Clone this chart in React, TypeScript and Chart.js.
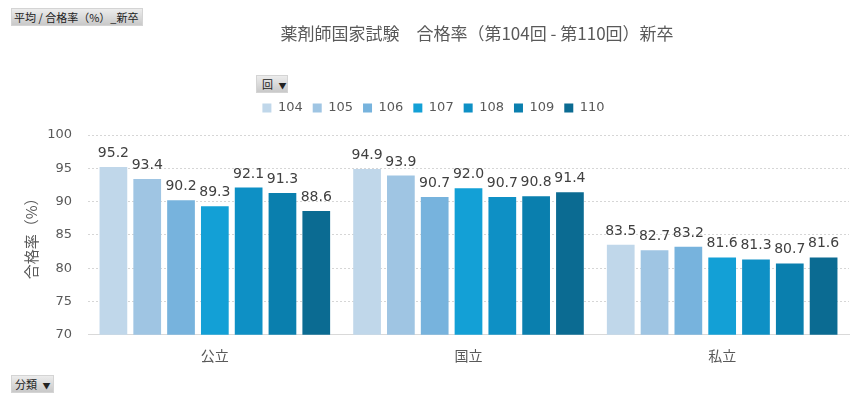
import { useEffect, useRef } from "react"
import { Chart, registerables } from "chart.js"

Chart.register(...registerables)

// 分類 (x軸)
const categories = ["公立", "国立", "私立"]

// 回 (凡例)
const rounds = ["104", "105", "106", "107", "108", "109", "110"]

// 合格率 (%) 新卒  [公立, 国立, 私立]
const rate104 = [95.2, 94.9, 83.5]
const rate105 = [93.4, 93.9, 82.7]
const rate106 = [90.2, 90.7, 83.2]
const rate107 = [89.3, 92.0, 81.6]
const rate108 = [92.1, 90.7, 81.3]
const rate109 = [91.3, 90.8, 80.7]
const rate110 = [88.6, 91.4, 81.6]
const seriesValues = [rate104, rate105, rate106, rate107, rate108, rate109, rate110]

const yMin = 70
const yMax = 100
const yStep = 5

const seriesColors = [
  "#c0d7ea",
  "#9fc5e3",
  "#77b3dd",
  "#13a0d6",
  "#0e90c5",
  "#0a7fae",
  "#0b6b92",
]

const FONT = "'DejaVu Sans', 'Noto Sans CJK JP', sans-serif"
const CJK = "'Noto Sans CJK JP', sans-serif"
const TEXT = "#595959"

// 凡例とグラフの間の余白
const legendGap = {
  id: "legendGap",
  beforeInit(chart: any) {
    const fit = chart.legend.fit
    chart.legend.fit = function () {
      fit.bind(chart.legend)()
      this.height += 10.5
    }
  },
}

// 棒の上の値ラベル
const valueLabels = {
  id: "valueLabels",
  afterDatasetsDraw(chart: any) {
    const ctx = chart.ctx
    ctx.save()
    ctx.font = `14px ${FONT}`
    ctx.fillStyle = "#404040"
    ctx.textAlign = "center"
    ctx.textBaseline = "alphabetic"
    chart.data.datasets.forEach((ds: any, i: number) => {
      const meta = chart.getDatasetMeta(i)
      meta.data.forEach((bar: any, j: number) => {
        ctx.fillText(Number(ds.data[j]).toFixed(1), bar.x, bar.y - 10)
      })
    })
    ctx.restore()
  },
}

const buttonStyle: React.CSSProperties = {
  position: "absolute",
  background: "linear-gradient(#ececec, #c9c9c9)",
  border: "1px solid #d4d4d4",
  boxSizing: "border-box",
  fontFamily: CJK,
  fontSize: 11,
  color: "#222",
  lineHeight: "16px",
  whiteSpace: "nowrap",
  paddingLeft: 2,
}

export default function App() {
  const chartRef = useRef<HTMLCanvasElement>(null)
  const chartInstance = useRef<Chart | null>(null)

  useEffect(() => {
    if (!chartRef.current) return
    if (chartInstance.current) chartInstance.current.destroy()

    const ctx = chartRef.current.getContext("2d")
    if (!ctx) return

    chartInstance.current = new Chart(ctx, {
      type: "bar",
      data: {
        labels: categories,
        datasets: rounds.map((r, i) => ({
          label: r,
          data: seriesValues[i],
          backgroundColor: seriesColors[i],
          borderWidth: 0,
          categoryPercentage: 0.933,
          barPercentage: 0.82,
        })),
      },
      options: {
        responsive: true,
        maintainAspectRatio: false,
        animation: false,
        layout: {
          padding: { top: 91.5, left: 18, right: 18, bottom: 25.5 },
        },
        plugins: {
          title: { display: false },
          tooltip: { enabled: false },
          legend: {
            display: true,
            position: "top",
            labels: {
              boxWidth: 9,
              boxHeight: 9,
              padding: 10,
              color: TEXT,
              font: { family: FONT, size: 13 },
            },
          },
        },
        scales: {
          x: {
            grid: { display: false, drawTicks: false },
            border: { display: true, color: "#d9d9d9", width: 1 },
            ticks: {
              color: TEXT,
              padding: 12.5,
              font: { family: CJK, size: 14 },
            },
          },
          y: {
            min: yMin,
            max: yMax,
            afterFit(scale: any) {
              scale.width = 70
            },
            ticks: {
              stepSize: yStep,
              color: TEXT,
              padding: 16,
              font: { family: FONT, size: 13 },
            },
            grid: {
              color: "#d6d6d6",
              lineWidth: 1,
              drawTicks: false,
            },
            border: { display: false, dash: [2, 2] },
            title: {
              display: true,
              text: "合格率（%）",
              color: TEXT,
              font: { family: CJK, size: 15 },
            },
          },
        },
      },
      plugins: [legendGap, valueLabels],
    })

    return () => {
      if (chartInstance.current) {
        chartInstance.current.destroy()
        chartInstance.current = null
      }
    }
  }, [])

  return (
    <div style={{ position: "fixed", left: 0, top: 0, width: 867, height: 402, background: "#fff" }}>
      <canvas ref={chartRef} />
      <div
        style={{
          position: "absolute",
          left: 177,
          top: 22,
          width: 600,
          textAlign: "center",
          fontFamily: CJK,
          fontSize: 17,
          lineHeight: "22px",
          color: TEXT,
          whiteSpace: "pre",
        }}
      >
        {"薬剤師国家試験　合格率（第104回 - 第110回）新卒"}
      </div>
      <div style={{ ...buttonStyle, left: 11, top: 8, width: 132, height: 18 }}>平均 / 合格率（%）_新卒</div>
      <div style={{ ...buttonStyle, left: 256, top: 75, width: 32, height: 18, paddingLeft: 5 }}>
        回 <span style={{ fontSize: 8, marginLeft: 3 }}>▼</span>
      </div>
      <div style={{ ...buttonStyle, left: 11, top: 375, width: 43, height: 18, paddingLeft: 3 }}>
        分類 <span style={{ fontSize: 8, marginLeft: 3 }}>▼</span>
      </div>
    </div>
  )
}
